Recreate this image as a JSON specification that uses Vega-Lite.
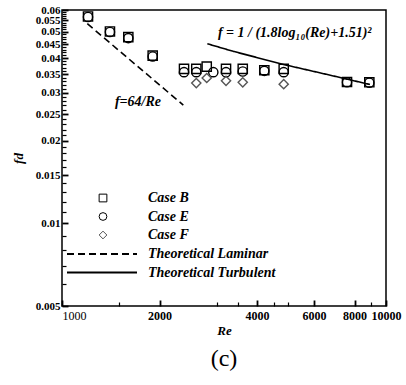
{
  "$schema": "https://vega.github.io/schema/vega-lite/v6.json",
  "width": 324,
  "height": 296,
  "autosize": "none",
  "padding": {"left": 62, "top": 10, "right": 20, "bottom": 79},
  "config": {"font": "Liberation Serif", "view": {"stroke": "black", "strokeWidth": 1.5}},
  "title": {"text": "(c)", "orient": "bottom", "font": "Liberation Serif", "fontSize": 24, "fontWeight": "normal", "color": "black", "offset": 10, "anchor": "middle"},
  "datasets": {
    "lines": [
      {"series": "Theoretical Laminar", "Re": 1197, "f": 0.0535},
      {"series": "Theoretical Laminar", "Re": 2368, "f": 0.0270},
      {"series": "Theoretical Turbulent", "Re": 2809, "f": 0.0452},
      {"series": "Theoretical Turbulent", "Re": 3379, "f": 0.0424},
      {"series": "Theoretical Turbulent", "Re": 4820, "f": 0.0380},
      {"series": "Theoretical Turbulent", "Re": 6877, "f": 0.0345},
      {"series": "Theoretical Turbulent", "Re": 8925, "f": 0.0321}
    ],
    "points": [
      {"series": "Case B", "Re": 1203, "f": 0.0568},
      {"series": "Case B", "Re": 1406, "f": 0.0501},
      {"series": "Case B", "Re": 1602, "f": 0.0478},
      {"series": "Case B", "Re": 1905, "f": 0.0409},
      {"series": "Case B", "Re": 2380, "f": 0.0366},
      {"series": "Case B", "Re": 2597, "f": 0.0366},
      {"series": "Case B", "Re": 2797, "f": 0.0373},
      {"series": "Case B", "Re": 3208, "f": 0.0366},
      {"series": "Case B", "Re": 3613, "f": 0.0366},
      {"series": "Case B", "Re": 4211, "f": 0.0362},
      {"series": "Case B", "Re": 4834, "f": 0.0366},
      {"series": "Case B", "Re": 7580, "f": 0.0328},
      {"series": "Case B", "Re": 8882, "f": 0.0327},
      {"series": "Case E", "Re": 1203, "f": 0.0566},
      {"series": "Case E", "Re": 1406, "f": 0.0499},
      {"series": "Case E", "Re": 1602, "f": 0.0474},
      {"series": "Case E", "Re": 1905, "f": 0.0406},
      {"series": "Case E", "Re": 2380, "f": 0.0356},
      {"series": "Case E", "Re": 2597, "f": 0.0356},
      {"series": "Case E", "Re": 2931, "f": 0.0356},
      {"series": "Case E", "Re": 3208, "f": 0.0356},
      {"series": "Case E", "Re": 3613, "f": 0.0358},
      {"series": "Case E", "Re": 4211, "f": 0.0360},
      {"series": "Case E", "Re": 4834, "f": 0.0356},
      {"series": "Case E", "Re": 7580, "f": 0.0327},
      {"series": "Case E", "Re": 8882, "f": 0.0326},
      {"series": "Case F", "Re": 2597, "f": 0.0325},
      {"series": "Case F", "Re": 2797, "f": 0.0339},
      {"series": "Case F", "Re": 3208, "f": 0.0331},
      {"series": "Case F", "Re": 3613, "f": 0.0327},
      {"series": "Case F", "Re": 4834, "f": 0.0322}
    ],
    "labels": [
      {"Re": 1716, "f": 0.0278, "text": "f=64/Re"},
      {"Re": 5227, "f": 0.0496, "text": "f = 1 / (1.8log₁₀(Re)+1.51)²"}
    ]
  },
  "resolve": {"axis": {"x": "independent", "y": "independent"}},
  "layer": [
    {
      "data": {"name": "lines"},
      "mark": {"type": "line", "color": "black", "strokeWidth": 1.6},
      "encoding": {
        "x": {"field": "Re", "type": "quantitative",
          "scale": {"type": "log", "domain": [1000, 10000], "nice": false},
          "axis": {"orient": "bottom", "values": [1000, 2000, 4000, 6000, 8000, 10000], "format": "d",
            "grid": false, "domain": false, "offset": -6, "tickSize": 6, "tickWidth": 1.8, "tickColor": "black",
            "labelFont": "Liberation Serif", "labelFontSize": 12, "labelColor": "black",
            "labelFontWeight": {"condition": {"test": "datum.value == 1000", "value": "normal"}, "value": "bold"},
            "labelAlign": {"condition": {"test": "datum.value == 1000", "value": "left"}, "value": "center"},
            "labelPadding": 4, "labelFlush": false, "labelOverlap": false,
            "title": "Re", "titleFont": "Liberation Serif", "titleFontSize": 13, "titleFontStyle": "italic", "titleFontWeight": "bold", "titleColor": "black", "titlePadding": 3}},
        "y": {"field": "f", "type": "quantitative",
          "scale": {"type": "log", "domain": [0.005, 0.06], "nice": false},
          "axis": {"orient": "left", "values": [0.005, 0.01, 0.015, 0.02, 0.025, 0.03, 0.035, 0.04, 0.045, 0.05, 0.055, 0.06], "format": ".3~f",
            "grid": false, "domain": false, "offset": -6, "tickSize": 6, "tickWidth": 1.8, "tickColor": "black",
            "labelFont": "Liberation Serif", "labelFontSize": 11, "labelFontWeight": "bold", "labelColor": "black",
            "labelPadding": 2, "labelFlush": false, "labelOverlap": false,
            "title": "fd", "titleFont": "Liberation Serif", "titleFontSize": 13, "titleFontStyle": "italic", "titleFontWeight": "bold", "titleColor": "black", "titlePadding": 10}},
        "strokeDash": {"field": "series", "type": "nominal",
          "scale": {"domain": ["Theoretical Laminar", "Theoretical Turbulent"], "range": [[7, 4], [1, 0]]},
          "legend": {"orient": "none", "legendX": 4, "legendY": 237, "title": null, "padding": 0,
            "symbolType": "stroke", "symbolSize": 4900, "symbolStrokeWidth": 2, "symbolStrokeColor": "black",
            "clipHeight": 14, "labelOffset": 10, "rowPadding": 4.5,
            "labelFont": "Liberation Serif", "labelFontSize": 14, "labelFontStyle": "italic", "labelFontWeight": "bold", "labelColor": "black", "labelLimit": 300}}
      }
    },
    {
      "data": {"name": "points"},
      "mark": {"type": "point", "filled": false, "size": 85, "strokeWidth": 1.4, "opacity": 1},
      "encoding": {
        "x": {"field": "Re", "type": "quantitative",
          "axis": {"orient": "bottom", "values": [1500, 3000, 3500, 4500, 5000, 9000], "labels": false, "domain": false, "grid": false, "offset": -4, "tickSize": 4, "tickWidth": 1.2, "tickColor": "black", "title": null}},
        "y": {"field": "f", "type": "quantitative",
          "axis": {"orient": "left", "values": [0.006, 0.007, 0.008, 0.009, 0.011, 0.012, 0.013, 0.014, 0.016, 0.017, 0.018, 0.019, 0.021, 0.022, 0.023, 0.024, 0.026, 0.027, 0.028, 0.029, 0.031, 0.032, 0.033, 0.034, 0.036, 0.037, 0.038, 0.039, 0.041, 0.042, 0.043, 0.044, 0.046, 0.047, 0.048, 0.049, 0.051, 0.052, 0.053, 0.054, 0.056, 0.057, 0.058, 0.059], "labels": false, "domain": false, "grid": false, "offset": -4, "tickSize": 4, "tickWidth": 1.2, "tickColor": "black", "title": null}},
        "shape": {"field": "series", "type": "nominal",
          "scale": {"domain": ["Case B", "Case E", "Case F"], "range": ["square", "circle", "diamond"]},
          "legend": {"orient": "none", "legendX": 34, "legendY": 181, "title": null, "padding": 0,
            "symbolSize": 60, "symbolStrokeWidth": 1, "symbolOpacity": 1, "clipHeight": 14, "labelOffset": 38, "rowPadding": 4.5,
            "labelFont": "Liberation Serif", "labelFontSize": 14, "labelFontStyle": "italic", "labelFontWeight": "bold", "labelColor": "black"}},
        "stroke": {"field": "series", "type": "nominal",
          "scale": {"domain": ["Case B", "Case E", "Case F"], "range": ["black", "black", "#555555"]},
          "legend": {"orient": "none", "legendX": 34, "legendY": 181, "title": null, "padding": 0,
            "symbolSize": 60, "symbolStrokeWidth": 1, "symbolOpacity": 1, "clipHeight": 14, "labelOffset": 38, "rowPadding": 4.5,
            "labelFont": "Liberation Serif", "labelFontSize": 14, "labelFontStyle": "italic", "labelFontWeight": "bold", "labelColor": "black"}}
      }
    },
    {
      "data": {"name": "labels"},
      "mark": {"type": "text", "font": "Liberation Serif", "fontSize": 14, "fontStyle": "italic", "fontWeight": "bold", "color": "black", "align": "center", "baseline": "middle"},
      "encoding": {
        "x": {"field": "Re", "type": "quantitative", "axis": null},
        "y": {"field": "f", "type": "quantitative", "axis": null},
        "text": {"field": "text", "type": "nominal"}
      }
    }
  ]
}
